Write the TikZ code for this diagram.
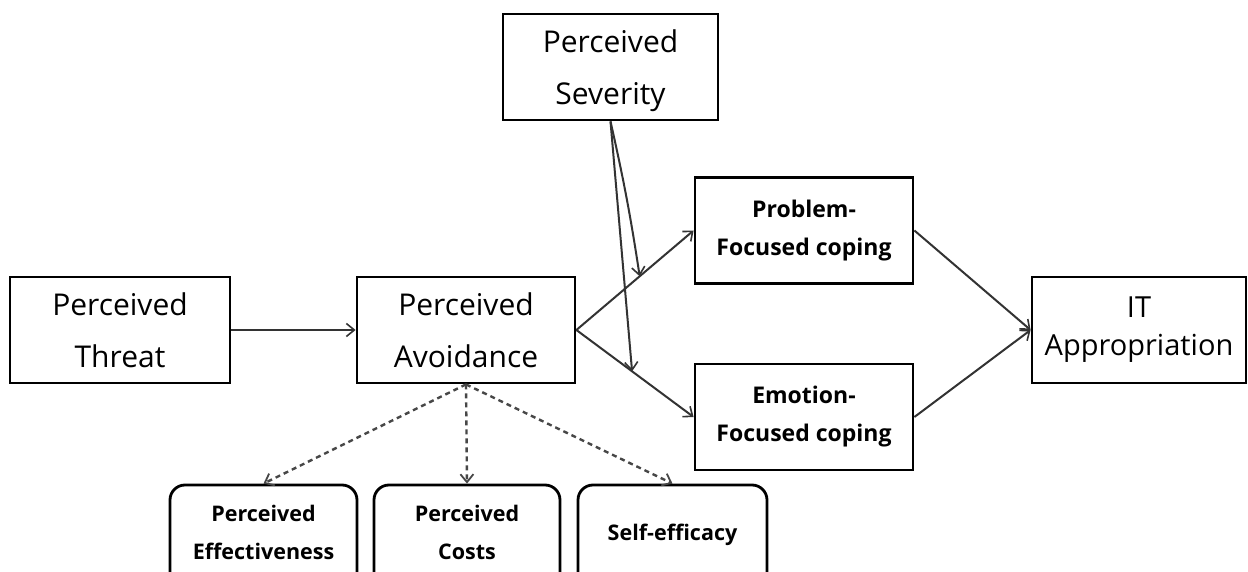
\documentclass[tikz,border=0pt]{standalone}
\usepackage{fontspec}
\setmainfont{Open Sans}
\usetikzlibrary{arrows.meta}
\begin{document}
\begin{tikzpicture}[x=1pt,y=-1pt,
  boxline/.style={draw=black,line width=2.8pt},
  mainbox/.style={boxline,minimum width=#1,minimum height=106pt,inner sep=0pt,
    align=center,font=\fontsize{30}{52}\selectfont},
  maintext/.style={align=center,font=\fontsize{30}{52}\selectfont},
  copebox/.style={boxline,minimum width=218pt,minimum height=106pt,inner sep=0pt,
    align=center,font=\fontsize{23}{38}\selectfont\bfseries},
  smallbox/.style={boxline,rounded corners=15pt,minimum width=#1,minimum height=106pt,inner sep=0pt},
  smalltext/.style={align=center,font=\fontsize{21.5}{38}\selectfont\bfseries},
  conn/.style={draw=black!80,line width=2pt,-{Straight Barb[length=8pt,width=13pt,line width=1.6pt]}},
  dconn/.style={draw=black!72,line width=2.4pt,dash pattern=on 5pt off 4pt,-{Straight Barb[length=8pt,width=13pt,line width=1.8pt]}}
]
\useasboundingbox (0,0) rectangle (1248,572);
\fill[white] (0,0) rectangle (1248,572);

\node[mainbox=220pt] (threat) at (120,330) {Perceived\\Threat};
\node[mainbox=218pt] (avoid) at (466,330) {Perceived\\Avoidance};
\node[mainbox=215pt] (severity) at (610.5,67) {};
\node[maintext] (sevt) at (610.5,71) {Perceived\\Severity};
\node[copebox] (problem) at (804,230.5) {Problem-\\Focused coping};
\node[copebox] (emotion) at (804,417) {Emotion-\\Focused coping};
\node[mainbox=214pt,font=\fontsize{29}{38}\selectfont] (it) at (1139,330) {IT\\Appropriation};

\begin{scope}
\clip (0,0) rectangle (1248,572);
\node[smallbox=187pt] (eff) at (263.5,538) {};
\node[smallbox=186pt] (costs) at (467,538) {};
\node[smallbox=189pt] (self) at (672.5,538) {};
\end{scope}
\node[smalltext] (efft) at (263.5,532) {Perceived\\Effectiveness};
\node[smalltext] (costst) at (467,532) {Perceived\\Costs};
\node[smalltext] (selft) at (672.5,535) {Self-efficacy};

\draw[conn] (threat.east) -- (avoid.west);
\draw[conn] (avoid.east) -- coordinate[pos=0.54] (m1) (problem.west);
\draw[conn] (avoid.east) -- coordinate[pos=0.475] (m2) (emotion.west);
\draw[conn] (problem.east) -- (it.west);
\draw[conn] (emotion.east) -- (it.west);
\draw[conn] (severity.south) to[bend left=2] (m1);
\draw[conn] (severity.south) -- (m2);

\draw[dconn] (avoid.south) -- (eff.north);
\draw[dconn] (avoid.south) -- (costs.north);
\draw[dconn] (avoid.south) -- (self.north);
\end{tikzpicture}
\end{document}
